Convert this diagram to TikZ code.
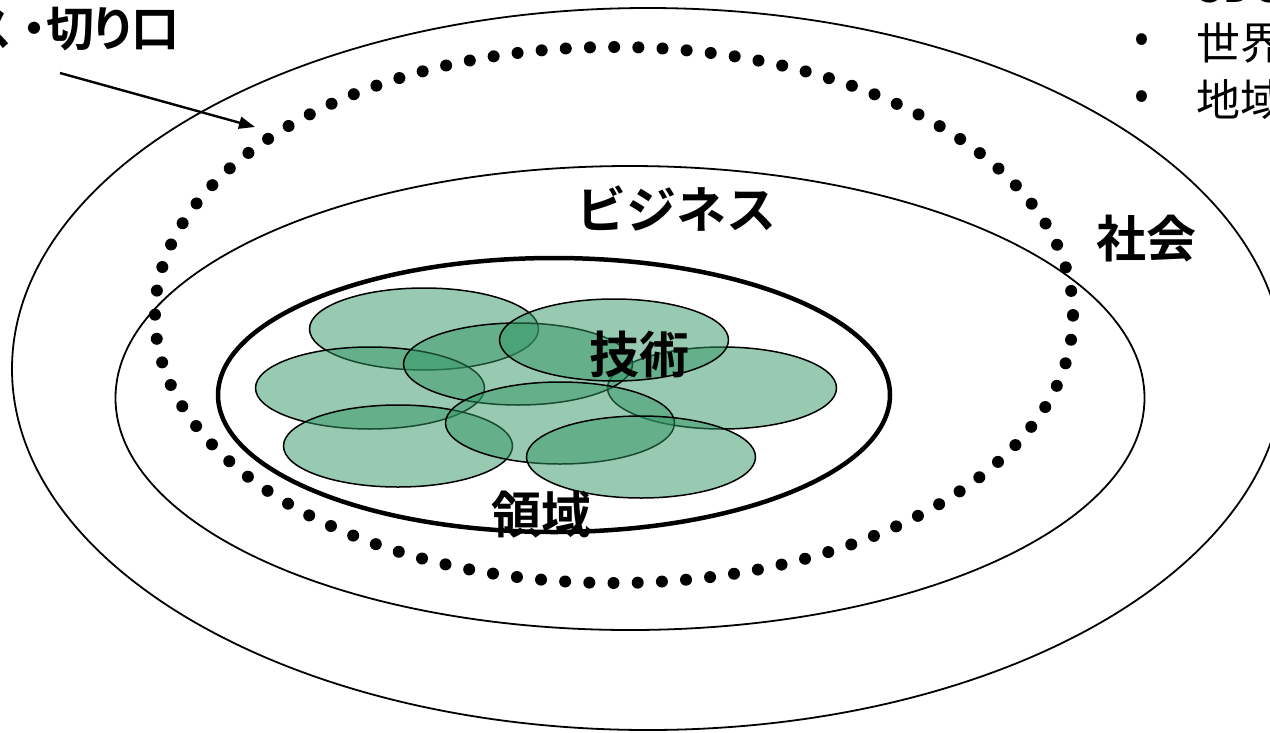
\documentclass[tikz,border=0pt]{standalone}
\usepackage{fontspec}
\newfontfamily\jpfont{Noto Sans CJK JP}[BoldFont={Noto Sans CJK JP Bold}]
\newfontfamily\jppfont{Noto Sans CJK JP Bold}[RawFeature=+palt]
\usetikzlibrary{shapes.geometric,arrows.meta}
\definecolor{techgreen}{RGB}{50,150,100}

\begin{document}
\begin{tikzpicture}[x=1pt,y=-1pt,
    ring/.style={ellipse, draw, inner sep=0pt, outer sep=0pt},
    techarea/.style={ellipse, draw, line width=1.5pt, fill=techgreen, fill opacity=0.5, draw opacity=1, minimum width=229pt, minimum height=82pt, inner sep=0pt},
    biglabel/.style={font=\jpfont\bfseries\fontsize{50}{50}\selectfont, inner sep=0pt},
    listlabel/.style={font=\jpfont\fontsize{44}{44}\selectfont, inner sep=0pt}]

        \useasboundingbox (0,0) rectangle (1270,732);

        % nested areas
        \node[ring, line width=1.8pt, minimum width=1272pt, minimum height=722pt] (society) at (648,369) {};
        \node[ring, line width=1.8pt, minimum width=1029pt, minimum height=464pt] (business) at (630,398) {};
        \node[ring, line width=12pt, dash pattern=on 0pt off 24.2pt, line cap=round, minimum width=918pt, minimum height=536pt] (viewpoint) at (614,315) {};
        \node[ring, line width=4.5pt, minimum width=672pt, minimum height=274pt] (domain) at (554,395) {};

        % technologies
        \node[techarea] (t1) at (424,329) {};
        \node[techarea] (t4) at (370,388) {};
        \node[techarea] (t5) at (722,388) {};
        \node[techarea] (t3) at (518,364) {};
        \node[techarea] (t2) at (614,340) {};
        \node[techarea] (t7) at (398,446) {};
        \node[techarea] (t6) at (560,423) {};
        \node[techarea] (t8) at (641,457) {};

        % labels
        \node[biglabel] (bizlabel) at (676,209) {ビジネス};
        \node[biglabel] (soclabel) at (1146,239) {社会};
        \node[biglabel] (techlabel) at (639,354) {技術};
        \node[biglabel] (domlabel) at (541,515) {領域};
        \node[font=\jppfont\fontsize{48}{48}\selectfont, inner sep=0pt, anchor=east] (viewlabel) at (180,29) {ス\kern10pt・切り口};

        \coordinate (arrowtail) at (60,73);
        \coordinate (arrowtip) at (255,127);
        \draw[-{Triangle[length=16pt,width=12pt]}, line width=2.4pt] (arrowtail) -- (arrowtip);

        % list on the right
        \node[listlabel, anchor=west] (item0) at (1196,-14) {SDGs};
        \node[listlabel] (bul1) at (1142,43) {•};
        \node[listlabel, anchor=west] (item1) at (1196,43) {世界};
        \node[listlabel] (bul2) at (1142,100) {•};
        \node[listlabel, anchor=west] (item2) at (1196,100) {地域};

        \end{tikzpicture}
\end{document}
